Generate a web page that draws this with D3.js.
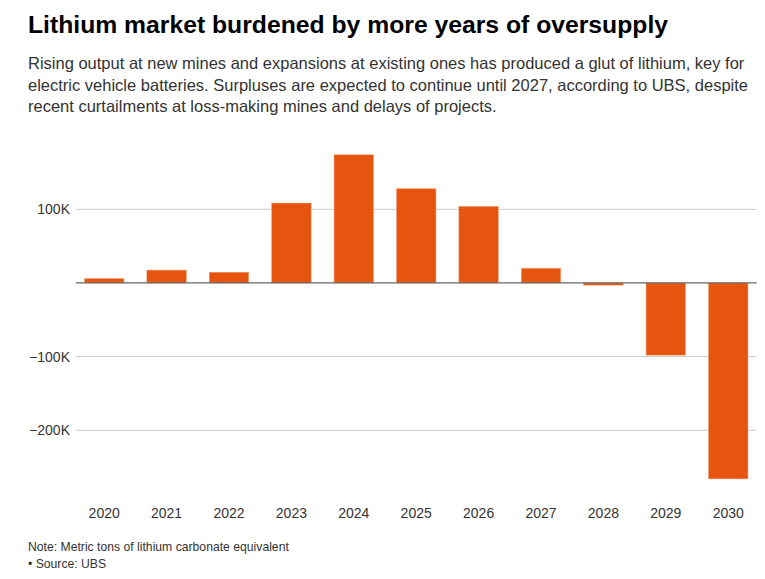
<!DOCTYPE html>
<html>
<head>
<meta charset="utf-8">
<script src="https://cdn.jsdelivr.net/npm/d3@7"></script>
<style>
  body { margin: 0; background: #fff; }
  svg { display: block; font-family: "Liberation Sans", Arial, Helvetica, sans-serif; }
</style>
</head>
<body>
<svg id="chart" width="765" height="579"></svg>
<script>
const years = ["2020","2021","2022","2023","2024","2025","2026","2027","2028","2029","2030"];
const surplus = [6000, 17500, 14600, 108500, 174000, 128000, 104000, 20000, -3000, -98000, -266000];
const yTicks = [-200000, -100000, 0, 100000];
const yTickLabels = ["−200K", "−100K", "", "100K"];

const titleText = "Lithium market burdened by more years of oversupply";
const subtitleLines = [
  "Rising output at new mines and expansions at existing ones has produced a glut of lithium, key for",
  "electric vehicle batteries. Surpluses are expected to continue until 2027, according to UBS, despite",
  "recent curtailments at loss-making mines and delays of projects."
];
const noteText = "Note: Metric tons of lithium carbonate equivalent";
const sourceText = "• Source: UBS";

const svg = d3.select("#chart");

svg.append("text").attr("x", 28).attr("y", 33)
  .attr("font-size", 24.7).attr("font-weight", "bold").attr("fill", "#000")
  .attr("textLength", 640).attr("lengthAdjust", "spacingAndGlyphs")
  .text(titleText);

svg.append("g").selectAll("text").data(subtitleLines).join("text")
  .attr("x", 28).attr("y", (d, i) => 69 + i * 21.5)
  .attr("font-size", 16.5).attr("fill", "#333")
  .text(d => d);

const x0 = 75.7, x1 = 756.7;
const x = d3.scaleBand().domain(years).range([x0, x1]).paddingInner(0.367).paddingOuter(0.14);
const y = d3.scaleLinear().domain([-200000, 100000]).range([430.3, 209.3]);

// grid lines
svg.append("g").selectAll("line").data(yTicks.filter(d => d !== 0)).join("line")
  .attr("x1", x0).attr("x2", x1)
  .attr("y1", d => y(d)).attr("y2", d => y(d))
  .attr("stroke", "#ccc").attr("stroke-width", 1);

// y labels
svg.append("g").selectAll("text").data(yTicks).join("text")
  .attr("x", 70).attr("y", d => y(d) + 5)
  .attr("text-anchor", "end").attr("font-size", 14).attr("fill", "#333")
  .text((d, i) => yTickLabels[i]);

// bars
svg.append("g").selectAll("rect").data(surplus).join("rect")
  .attr("x", (d, i) => x(years[i]))
  .attr("width", x.bandwidth())
  .attr("y", d => y(Math.max(0, d)))
  .attr("height", d => Math.abs(y(d) - y(0)))
  .attr("fill", "#e5550f")
  .attr("stroke", "#f7a47c").attr("stroke-width", 0.5);

// zero line
svg.append("line")
  .attr("x1", x0).attr("x2", x1)
  .attr("y1", y(0)).attr("y2", y(0))
  .attr("stroke", "#666").attr("stroke-width", 1.2);

// x axis labels
const xAxis = d3.axisBottom(x).tickSize(0).tickPadding(0);
const gx = svg.append("g").attr("transform", "translate(0,508)").call(xAxis);
gx.select(".domain").remove();
gx.selectAll("text").attr("font-size", 14).attr("fill", "#333")
  .attr("font-family", "\"Liberation Sans\", Arial, sans-serif");

svg.append("text").attr("x", 28).attr("y", 551)
  .attr("font-size", 12.2).attr("fill", "#333").text(noteText);
svg.append("text").attr("x", 28).attr("y", 568)
  .attr("font-size", 12.2).attr("fill", "#333").text(sourceText);
</script>
</body>
</html>
